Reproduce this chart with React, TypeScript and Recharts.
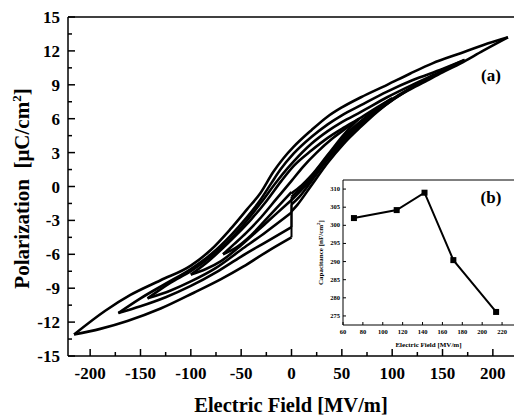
import React from "react";
import { LineChart, Line, XAxis, YAxis, ReferenceLine } from "recharts";

type Pt = [number, number];

const SERIF = "'Liberation Serif', 'Times New Roman', serif";

// hysteresis loops, [field MV/m, polarization uC/cm2]
// each loop: rising branch from 0, upper branch (written left to right), return branch back to 0
const loop215Rise: Pt[] = [[0, -2.2], [6, -1.6], [19, 0.0], [36, 2.1], [52, 3.8], [69, 5.3], [85, 6.6], [101, 7.7], [118, 8.6], [135, 9.4], [150, 10.1], [168, 10.9], [190, 12.0], [215, 13.2]];
const loop215Upper: Pt[] = [[-216, -13.1], [-185, -11.0], [-160, -9.6], [-130, -8.3], [-100, -7.0], [-80, -5.6], [-61, -3.8], [-44, -2.0], [-31, -0.6], [-18, 1.3], [-8, 2.5], [2, 3.5], [20, 5.0], [36, 6.2], [50, 7.0], [69, 7.9], [95, 9.0], [118, 10.0], [140, 10.9], [168, 11.8], [190, 12.5], [215, 13.2]];
const loop215Back: Pt[] = [[-216, -13.1], [-190, -12.6], [-163, -11.9], [-130, -10.8], [-97, -9.4], [-70, -8.2], [-48, -7.1], [-25, -5.8], [0, -4.5]];

const loop172Rise: Pt[] = [[0, -1.6], [8, -0.9], [20, 0.5], [36, 2.4], [52, 4.0], [69, 5.5], [85, 6.7], [101, 7.8], [120, 8.8], [140, 9.8], [155, 10.5], [172, 11.2]];
const loop172Upper: Pt[] = [[-172, -11.2], [-150, -9.9], [-125, -8.6], [-100, -7.3], [-80, -6.0], [-60, -4.3], [-45, -2.8], [-31, -1.2], [-20, 0.3], [-11, 1.5], [2, 2.9], [20, 4.4], [36, 5.5], [50, 6.3], [69, 7.2], [95, 8.4], [120, 9.4], [150, 10.4], [172, 11.2]];
const loop172Back: Pt[] = [[-172, -11.2], [-150, -10.6], [-125, -9.8], [-100, -8.8], [-75, -7.6], [-50, -6.2], [-25, -4.9], [0, -3.6]];

const loop142Rise: Pt[] = [[0, -1.2], [10, -0.3], [20, 0.7], [36, 2.6], [52, 4.2], [69, 5.6], [90, 7.0], [115, 8.5], [142, 9.9]];
const loop142Upper: Pt[] = [[-143, -9.9], [-120, -8.5], [-100, -7.5], [-80, -6.2], [-60, -4.6], [-45, -3.1], [-30, -1.4], [-15, 0.4], [-4, 1.6], [2, 2.2], [20, 3.8], [36, 4.9], [50, 5.7], [69, 6.6], [95, 7.9], [120, 9.0], [142, 9.9]];
const loop142Back: Pt[] = [[-143, -9.9], [-120, -9.2], [-100, -8.4], [-75, -7.2], [-50, -5.6], [-25, -4.0], [0, -2.3]];

const loop100Rise: Pt[] = [[0, -0.9], [10, -0.1], [20, 0.9], [36, 2.7], [52, 4.4], [69, 5.8], [85, 6.9], [100, 7.8]];
const loop100Upper: Pt[] = [[-100, -7.8], [-85, -6.8], [-70, -5.6], [-55, -4.3], [-40, -2.9], [-25, -1.3], [-10, 0.5], [2, 1.8], [20, 3.2], [36, 4.3], [50, 5.1], [69, 6.1], [85, 7.0], [100, 7.8]];
const loop100Back: Pt[] = [[-100, -7.8], [-85, -7.3], [-70, -6.6], [-50, -5.2], [-25, -3.2], [0, -1.2]];

const loop67Rise: Pt[] = [[0, -0.6], [10, 0.1], [20, 1.0], [36, 2.8], [52, 4.6], [67, 6.0]];
const loop67Upper: Pt[] = [[-68, -6.0], [-57, -5.1], [-45, -4.1], [-30, -2.7], [-15, -1.1], [0, 0.5], [11, 1.7], [25, 3.0], [40, 4.2], [55, 5.2], [67, 6.0]];
const loop67Back: Pt[] = [[-68, -6.0], [-55, -5.4], [-40, -4.3], [-20, -2.4], [0, -0.5]];

const LOOPS = [
  { id: "215", rise: loop215Rise, upper: loop215Upper, back: loop215Back },
  { id: "172", rise: loop172Rise, upper: loop172Upper, back: loop172Back },
  { id: "142", rise: loop142Rise, upper: loop142Upper, back: loop142Back },
  { id: "100", rise: loop100Rise, upper: loop100Upper, back: loop100Back },
  { id: "67", rise: loop67Rise, upper: loop67Upper, back: loop67Back },
];

const FIELD_TICKS = [-200, -175, -150, -125, -100, -75, -50, -25, 0, 25, 50, 75, 100, 125, 150, 175, 200];
const POL_TICKS = [-15, -13.5, -12, -10.5, -9, -7.5, -6, -4.5, -3, -1.5, 0, 1.5, 3, 4.5, 6, 7.5, 9, 10.5, 12, 13.5, 15];

// inset (b): capacitance vs field
const capField = [71, 114, 142, 171, 214];
const capValue = [302.0, 304.2, 309.0, 290.4, 276.1];
const CAP_X_TICKS = [60, 80, 100, 120, 140, 160, 180, 200, 220];
const CAP_Y_TICKS = [275, 280, 285, 290, 295, 300, 305, 310];

const toRows = (pts: Pt[]) => pts.map(([e, p]) => ({ e, p }));

const FieldTick = ({ x, y, payload }: any) => {
  const major = payload.value % 50 === 0;
  return (
    <g>
      <line x1={x} x2={x} y1={y} y2={y - (major ? 7 : 4)} stroke="#000" strokeWidth={1.5} />
      {major && (
        <text x={x} y={y + 23} textAnchor="middle" fontSize={17} fontWeight="bold" fontFamily={SERIF} fill="#000">
          {payload.value}
        </text>
      )}
    </g>
  );
};

const PolTick = ({ x, y, payload }: any) => {
  const major = payload.value % 3 === 0;
  return (
    <g>
      <line x1={x} x2={x + (major ? 7 : 4)} y1={y} y2={y} stroke="#000" strokeWidth={1.5} />
      {major && (
        <text x={x - 8} y={y + 6} textAnchor="end" fontSize={17} fontWeight="bold" fontFamily={SERIF} fill="#000">
          {payload.value}
        </text>
      )}
    </g>
  );
};

const FieldTitle = (props: any) => {
  const { x, y, width } = props.viewBox;
  return (
    <text x={x + width / 2} y={y + 56} textAnchor="middle" fontSize={20.5} fontWeight="bold" fontFamily={SERIF} fill="#000">
      Electric Field [MV/m]
    </text>
  );
};

const PolTitle = (props: any) => {
  const { y, height } = props.viewBox;
  const cx = 29;
  const cy = y + height / 2 + 2;
  return (
    <text x={cx} y={cy} transform={`rotate(-90 ${cx} ${cy})`} textAnchor="middle" fontSize={21} fontWeight="bold" fontFamily={SERIF} fill="#000">
      Polarization{"\u00a0\u00a0"}[μC/cm<tspan dy={-8} fontSize={13}>2</tspan>
      <tspan dy={8}>]</tspan>
    </text>
  );
};

const CapXTick = ({ x, y, payload }: any) => (
  <g>
    <line x1={x} x2={x} y1={y} y2={y - 3} stroke="#000" strokeWidth={1} />
    <text x={x} y={y + 9} textAnchor="middle" fontSize={6.5} fontWeight="bold" fontFamily={SERIF} fill="#000">
      {payload.value}
    </text>
  </g>
);

const CapYTick = ({ x, y, payload }: any) => (
  <g>
    <line x1={x} x2={x + 3} y1={y} y2={y} stroke="#000" strokeWidth={1} />
    <text x={x - 3} y={y + 2} textAnchor="end" fontSize={6.5} fontWeight="bold" fontFamily={SERIF} fill="#000">
      {payload.value}
    </text>
  </g>
);

const CapXTitle = (props: any) => {
  const { x, y, width } = props.viewBox;
  return (
    <text x={x + width / 2} y={y + 22} textAnchor="middle" fontSize={7} fontWeight="bold" fontFamily={SERIF} fill="#000">
      Electric Field [MV/m]
    </text>
  );
};

const CapYTitle = (props: any) => {
  const { x, y, width, height } = props.viewBox;
  const cx = x + width - 20;
  const cy = y + height / 2;
  return (
    <text x={cx} y={cy} transform={`rotate(-90 ${cx} ${cy})`} textAnchor="middle" fontSize={7} fontWeight="bold" fontFamily={SERIF} fill="#000">
      Capacitance [nF/cm<tspan dy={-3} fontSize={5}>2</tspan>
      <tspan dy={3}>]</tspan>
    </text>
  );
};

const SquareDot = (props: any) => {
  const { cx, cy, index } = props;
  return <rect key={`sq-${index}`} x={cx - 3} y={cy - 3} width={6} height={6} fill="#000" />;
};

export default function App() {
  const capRows = capField.map((e, i) => ({ e, c: capValue[i] }));

  return (
    <div style={{ position: "absolute", left: 0, top: 0, width: 514, height: 416, background: "#fff" }}>
      <div style={{ position: "absolute", left: 0, top: 0 }}>
        <LineChart width={514} height={416} margin={{ top: 17, right: 0, bottom: 0, left: 0 }}>
          <XAxis
            dataKey="e"
            type="number"
            domain={[-222, 221]}
            allowDataOverflow
            ticks={FIELD_TICKS}
            interval={0}
            tickSize={0}
            tickMargin={0}
            tick={<FieldTick />}
            height={60}
            axisLine={{ stroke: "#000", strokeWidth: 1.5 }}
            label={<FieldTitle />}
          />
          <YAxis
            type="number"
            domain={[-15, 15]}
            allowDataOverflow
            ticks={POL_TICKS}
            interval={0}
            tickSize={0}
            tickMargin={0}
            tick={<PolTick />}
            width={68}
            axisLine={{ stroke: "#000", strokeWidth: 1.5 }}
            label={<PolTitle />}
          />
          <ReferenceLine y={15} stroke="#000" strokeWidth={1.5} />
          {LOOPS.map((l) => [
            <Line key={`r${l.id}`} data={toRows(l.rise)} dataKey="p" type="monotone" stroke="#000" strokeWidth={2.6} dot={false} isAnimationActive={false} />,
            <Line key={`u${l.id}`} data={toRows(l.upper)} dataKey="p" type="monotone" stroke="#000" strokeWidth={2.6} dot={false} isAnimationActive={false} />,
            <Line key={`b${l.id}`} data={toRows(l.back)} dataKey="p" type="monotone" stroke="#000" strokeWidth={2.6} dot={false} isAnimationActive={false} />,
            <Line
              key={`v${l.id}`}
              data={toRows([l.back[l.back.length - 1], l.rise[0]])}
              dataKey="p"
              type="linear"
              stroke="#000"
              strokeWidth={2}
              dot={false}
              isAnimationActive={false}
            />,
          ])}
          <text x={491} y={81} textAnchor="middle" fontSize={17} fontWeight="bold" fontFamily={SERIF} fill="#000">
            (a)
          </text>
        </LineChart>
      </div>

      <div style={{ position: "absolute", left: 0, top: 0 }}>
        <LineChart width={514} height={416} data={capRows} margin={{ top: 180, right: 0, bottom: 0, left: 0 }}>
          <XAxis
            dataKey="e"
            type="number"
            domain={[60, 232]}
            allowDataOverflow
            ticks={CAP_X_TICKS}
            interval={0}
            tickSize={0}
            tickMargin={0}
            tick={<CapXTick />}
            height={91}
            axisLine={{ stroke: "#000", strokeWidth: 1 }}
            label={<CapXTitle />}
          />
          <YAxis
            type="number"
            domain={[272.5, 312.5]}
            allowDataOverflow
            ticks={CAP_Y_TICKS}
            interval={0}
            tickSize={0}
            tickMargin={0}
            tick={<CapYTick />}
            width={343}
            axisLine={{ stroke: "#000", strokeWidth: 1 }}
            label={<CapYTitle />}
          />
          <ReferenceLine y={312.5} stroke="#000" strokeWidth={1} />
          <Line dataKey="c" type="linear" stroke="#000" strokeWidth={2} dot={<SquareDot />} isAnimationActive={false} />
          <text x={491} y={203} textAnchor="middle" fontSize={17} fontWeight="bold" fontFamily={SERIF} fill="#000">
            (b)
          </text>
        </LineChart>
      </div>
    </div>
  );
}
